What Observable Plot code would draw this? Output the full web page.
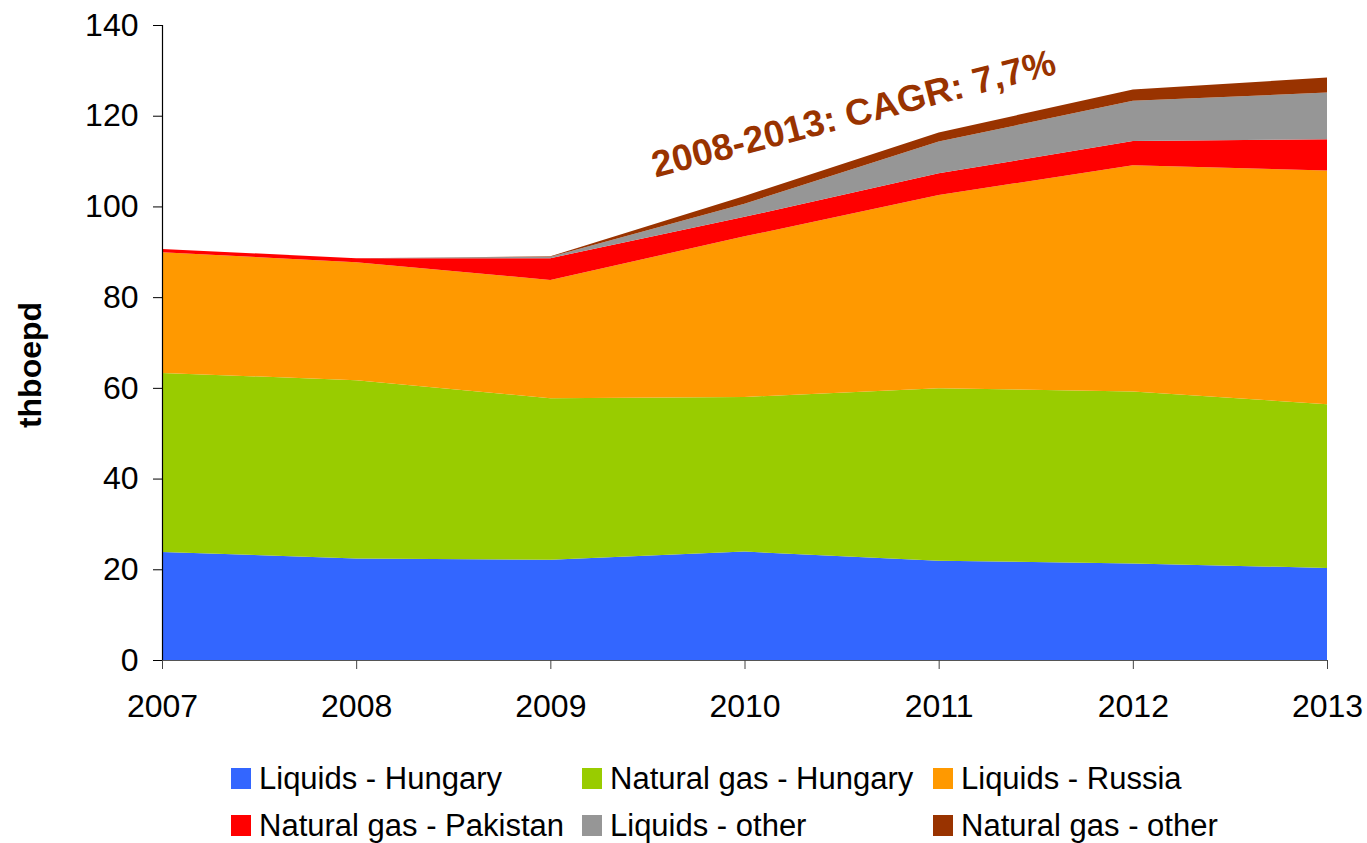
<!DOCTYPE html>
<html><head><meta charset="utf-8">
<script src="https://cdn.jsdelivr.net/npm/d3@7"></script>
<script src="https://cdn.jsdelivr.net/npm/@observablehq/plot@0.6"></script>
<style>
body{margin:0;background:#fff;font-family:"Liberation Sans",Arial,sans-serif;}
#legend{display:grid;grid-template-columns:351px 351px 351px;padding-left:231px;margin-top:20px;}
.item{display:flex;align-items:center;height:47px;font-size:31px;color:#000;white-space:nowrap}
.sw{width:20px;height:21px;margin-right:8px;flex:none}
</style></head><body><div id="chart"></div><div id="legend"></div>
<script>
const years = [2007, 2008, 2009, 2010, 2011, 2012, 2013];
const seriesNames = ["Liquids - Hungary", "Natural gas - Hungary", "Liquids - Russia", "Natural gas - Pakistan", "Liquids - other", "Natural gas - other"];
const seriesColors = ["#3366FF", "#99CC00", "#FF9900", "#FF0000", "#969696", "#993300"];
const liquidsHungary    = [23.8, 22.4, 22.1, 23.9, 21.9, 21.3, 20.3];
const naturalGasHungary = [39.5, 39.3, 35.6, 34.1, 38.0, 37.9, 36.1];
const liquidsRussia     = [26.6, 26.0, 26.1, 35.4, 42.6, 49.9, 51.5];
const naturalGasPakistan= [0.7, 0.9, 4.8, 4.3, 4.8, 5.3, 6.9];
const liquidsOther      = [0, 0, 0.3, 2.9, 7.0, 8.9, 10.3];
const naturalGasOther   = [0, 0, 0.1, 1.7, 2.0, 2.5, 3.3];
const yTicks = [0, 20, 40, 60, 80, 100, 120, 140];
const yLabel = "thboepd";
const annotationText = "2008-2013: CAGR: 7,7%";
const annotationYear = 2010.56;
const annotationValue = 120.5;

const seriesValues = [liquidsHungary, naturalGasHungary, liquidsRussia, naturalGasPakistan, liquidsOther, naturalGasOther];
const data = [];
seriesNames.forEach((name, i) => years.forEach((yr, j) => data.push({year: yr, series: name, value: seriesValues[i][j]})));

const chart = Plot.plot({
  width: 1367,
  height: 735,
  marginLeft: 162,
  marginRight: 40,
  marginTop: 25,
  marginBottom: 75,
  style: {fontSize: "32px", fontFamily: "Liberation Sans, Arial, sans-serif", color: "#000", background: "#fff"},
  x: {domain: [2007, 2013]},
  y: {domain: [0, 140]},
  color: {domain: seriesNames, range: seriesColors},
  marks: [
    Plot.areaY(data, {x: "year", y: "value", fill: "series", order: seriesNames, curve: "linear"}),
    Plot.ruleX([2007], {stroke: "#000", strokeWidth: 1.2}),
    Plot.ruleY([0], {stroke: "#555", strokeWidth: 1.2}),
    Plot.axisY({ticks: yTicks, tickSize: 9, tickPadding: 15, label: null, stroke: "#000", fontSize: 32}),
    Plot.axisX({ticks: years, tickFormat: d => String(d), tickSize: 9, tickPadding: 25, label: null, stroke: "#444", fontSize: 32}),
    Plot.text([yLabel], {frameAnchor: "left", dx: -132, dy: 22, rotate: -90, textAnchor: "middle", lineAnchor: "middle", text: d => d, fontSize: 32, fontWeight: "bold", fill: "#000"}),
    Plot.text([annotationText], {x: () => annotationYear, y: () => annotationValue, text: d => d, rotate: -14.5, fill: "#993300", fontSize: 37, fontWeight: "bold"})
  ]
});
document.getElementById("chart").appendChild(chart);

const legend = document.getElementById("legend");
seriesNames.forEach((name, i) => {
  const item = document.createElement("div");
  item.className = "item";
  const sw = document.createElement("span");
  sw.className = "sw";
  sw.style.background = chart.scale("color").apply(name);
  const label = document.createElement("span");
  label.textContent = name;
  item.appendChild(sw);
  item.appendChild(label);
  legend.appendChild(item);
});
</script></body></html>
